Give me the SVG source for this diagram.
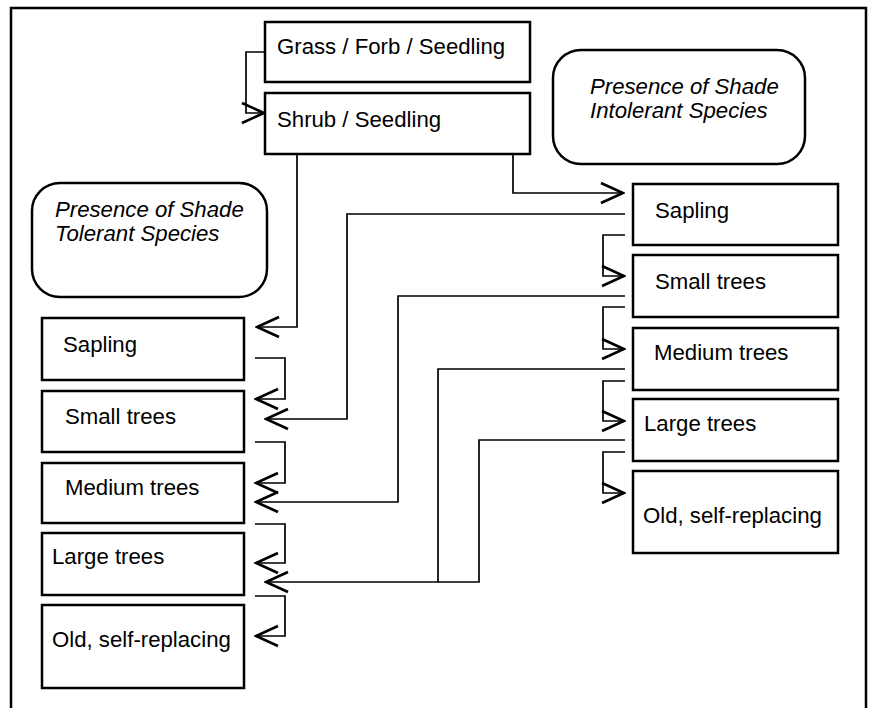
<svg xmlns="http://www.w3.org/2000/svg" width="871" height="708" viewBox="0 0 871 708">
<defs>
<style>
.box{fill:#fff;stroke:#000;stroke-width:2.5}
.t{font-family:"Liberation Sans",Arial,sans-serif;font-size:22.2px;fill:#000}
.i{font-style:italic}
.c{fill:none;stroke:#000;stroke-width:1.7}
</style>
<marker id="ah" viewBox="-24 -12 26 24" markerWidth="26" markerHeight="24" refX="0" refY="0" markerUnits="userSpaceOnUse" orient="auto">
<path d="M-22,-10 L0,0 L-22,10" fill="none" stroke="#000" stroke-width="2.7"/>
</marker>
</defs>
<rect width="871" height="708" fill="#fff"/>
<path d="M11,708 V8 H866 V708" fill="none" stroke="#000" stroke-width="2.5"/>
<g id="grass"><rect class="box" x="265" y="22" width="265" height="60"/><text class="t" x="277" y="54">Grass / Forb / Seedling</text></g>
<g id="shrub"><rect class="box" x="265" y="93" width="265" height="61"/><text class="t" x="277" y="127">Shrub / Seedling</text></g>
<g id="intolerant"><rect class="box" x="553" y="50" width="252" height="114" rx="28"/><text class="t i" x="590" y="94">Presence of Shade</text><text class="t i" x="590" y="118">Intolerant Species</text></g>
<g id="tolerant"><rect class="box" x="32" y="183" width="235" height="114" rx="28"/><text class="t i" x="55" y="217">Presence of Shade</text><text class="t i" x="55" y="241">Tolerant Species</text></g>
<g id="r-sapling"><rect class="box" x="633" y="184" width="205" height="61"/><text class="t" x="655" y="218">Sapling</text></g>
<g id="r-small"><rect class="box" x="633" y="255" width="205" height="62"/><text class="t" x="655" y="289">Small trees</text></g>
<g id="r-medium"><rect class="box" x="633" y="328" width="205" height="62"/><text class="t" x="654" y="360">Medium trees</text></g>
<g id="r-large"><rect class="box" x="633" y="399" width="205" height="62"/><text class="t" x="644" y="431">Large trees</text></g>
<g id="r-old"><rect class="box" x="633" y="471" width="205" height="82"/><text class="t" x="643" y="523">Old, self-replacing</text></g>
<g id="l-sapling"><rect class="box" x="42" y="318" width="202" height="62"/><text class="t" x="63" y="352">Sapling</text></g>
<g id="l-small"><rect class="box" x="42" y="391" width="202" height="61"/><text class="t" x="65" y="424">Small trees</text></g>
<g id="l-medium"><rect class="box" x="42" y="463" width="202" height="60"/><text class="t" x="65" y="495">Medium trees</text></g>
<g id="l-large"><rect class="box" x="42" y="533" width="202" height="62"/><text class="t" x="52" y="564">Large trees</text></g>
<g id="l-old"><rect class="box" x="42" y="605" width="202" height="83"/><text class="t" x="52" y="647">Old, self-replacing</text></g>
<g id="connectors">
<path class="c" d="M265,52 H246 V113 H264" marker-end="url(#ah)"/>
<path class="c" d="M513,154 V193 H623" marker-end="url(#ah)"/>
<path class="c" d="M297,154 V327 H257" marker-end="url(#ah)"/>
<path class="c" d="M625,214 H347 V419 H266" marker-end="url(#ah)"/>
<path class="c" d="M625,296 H398 V502 H256" marker-end="url(#ah)"/>
<path class="c" d="M625,369 H438 V582 H266" marker-end="url(#ah)"/>
<path class="c" d="M625,440 H479 V582 H438"/>
<path class="c" d="M625,235 H603 V276 H624" marker-end="url(#ah)"/>
<path class="c" d="M625,307 H603 V349 H624" marker-end="url(#ah)"/>
<path class="c" d="M625,381 H603 V421 H624" marker-end="url(#ah)"/>
<path class="c" d="M625,452 H603 V493 H624" marker-end="url(#ah)"/>
<path class="c" d="M255,358 H285 V399 H256" marker-end="url(#ah)"/>
<path class="c" d="M255,442 H285 V483 H256" marker-end="url(#ah)"/>
<path class="c" d="M255,524 H285 V563 H256" marker-end="url(#ah)"/>
<path class="c" d="M255,596 H285 V636 H256" marker-end="url(#ah)"/>
</g>
</svg>
